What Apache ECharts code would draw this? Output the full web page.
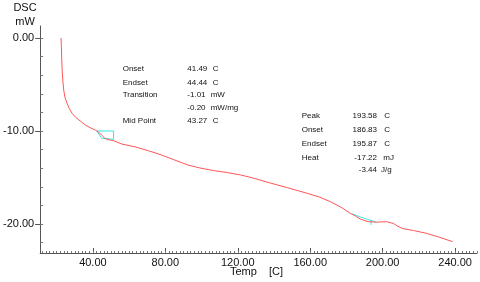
<!DOCTYPE html>
<html><head><meta charset="utf-8">
<script src="https://cdn.jsdelivr.net/npm/echarts@6/dist/echarts.min.js"></script>
<style>html,body{margin:0;padding:0;background:#fff}#c{width:480px;height:282px}</style>
</head><body><div id="c"></div>
<script>
// Measured DSC curve: temperature [C] and heat flow [mW]
const temps = [22.4,22.6,23.0,23.5,23.9,24.6,25.7,27.0,28.5,30.3,32.2,35.8,38.5,41.3,43.3,44.9,46.7,49.0,51.4,55.9,63.2,70.6,77.9,85.1,92.5,99.8,107.1,114.4,121.7,129.0,137.3,147.5,158.3,165.0,171.1,177.0,182.1,185.0,188.0,192.0,196.7,199.0,202.2,206.0,208.0,211.1,217.0,224.1,231.0,238.6];
const dsc   = [0.0,-1.0,-3.4,-4.8,-5.6,-6.4,-7.0,-7.6,-8.1,-8.5,-8.8,-9.35,-9.65,-9.9,-10.15,-10.45,-10.8,-10.95,-11.04,-11.4,-11.7,-12.12,-12.58,-13.12,-13.66,-14.01,-14.27,-14.48,-14.73,-15.09,-15.56,-16.1,-16.7,-17.1,-17.6,-18.2,-18.85,-19.15,-19.5,-19.75,-19.8,-19.78,-19.75,-19.95,-20.2,-20.5,-20.7,-21.0,-21.4,-21.9];
// Glass transition analysis box
const glassT = [42.2,51.4,51.4,44.9,42.2];
const glassV = [-10.0,-10.0,-10.9,-10.78,-10.0];
// Peak baseline and peak marker
const peakBaseT = [183.0,190.0,196.7];
const peakBaseV = [-18.9,-19.4,-19.8];
const peakTickT = [193.6,193.6];
const peakTickV = [-19.55,-20.1];
// Axis ticks
const xMajor = [40,80,120,160,200,240];
const xMinor = []; for (let v = 12; v <= 252; v += 2) xMinor.push(v);
const yMajor = [0,-10,-20];
const yMinor = [0,-2,-4,-6,-8,-10,-12,-14,-16,-18,-20,-22];
// Annotation texts
const glassLabels = ['Onset','Endset','Transition','','Mid Point'];
const glassValues = ['41.49','44.44','-1.01','-0.20','43.27'];
const glassUnits  = ['C','C','mW','mW/mg','C'];
const peakLabels = ['Peak','Onset','Endset','Heat',''];
const peakValues = ['193.58','186.83','195.87','-17.22','-3.44'];
const peakUnits  = ['C','C','C','mJ','J/g'];

const zip = (a,b) => a.map((v,i)=>[v,b[i]]);
const FF = '"Liberation Sans", Arial, sans-serif';
const chart = echarts.init(document.getElementById('c'));

const graphics = [];
function txt(x,y,s,size,align){
  graphics.push({type:'text',x:x,y:y,style:{text:s,fontSize:size,fontFamily:FF,fill:'#111',align:align||'left',verticalAlign:'middle'}});
}
txt(25,7.5,'DSC',11,'center');
txt(25,21.5,'mW',11,'center');
txt(230,272,'Temp',11);
txt(269,272,'[C]',11);
const gy = [68.3,82.3,95,107.5,121];
glassLabels.forEach((s,i)=>{ if(s) txt(122.7,gy[i],s,8); });
glassValues.forEach((s,i)=>txt(187.3,gy[i],s,8));
const gux = [212.7,212.7,210.7,210.7,212.7];
glassUnits.forEach((s,i)=>txt(gux[i],gy[i],s,8));
const py = [116,130,143.7,157.3,170];
peakLabels.forEach((s,i)=>{ if(s) txt(301.7,py[i],s,8); });
peakValues.forEach((s,i)=>txt(377,py[i],s,8,'right'));
const pux = [384.3,384.3,384.3,383.3,381];
peakUnits.forEach((s,i)=>txt(pux[i],py[i],s,8));

const axisCol = '#555';
chart.setOption({
  animation:false,
  grid:{left:38,right:3,top:26,bottom:29},
  xAxis:[{
    type:'value',min:10.9,max:252.1,position:'bottom',
    axisLine:{show:true,onZero:false,lineStyle:{color:axisCol,width:1}},
    axisTick:{show:true,inside:true,length:5,customValues:xMajor,lineStyle:{color:axisCol}},
    axisLabel:{show:true,margin:4,customValues:xMajor,formatter:v=>v.toFixed(2),fontSize:11,fontFamily:FF,color:'#111'},
    splitLine:{show:false}
  },{
    type:'value',min:10.9,max:252.1,position:'bottom',
    axisLine:{show:false,onZero:false},
    axisTick:{show:true,inside:true,length:2,customValues:xMinor,lineStyle:{color:'#777'}},
    axisLabel:{show:false},splitLine:{show:false}
  }],
  yAxis:[{
    type:'value',min:-23.12,max:1.29,position:'left',
    axisLine:{show:true,onZero:false,lineStyle:{color:axisCol,width:1}},
    axisTick:{show:true,inside:false,length:5,customValues:yMajor,lineStyle:{color:axisCol}},
    axisLabel:{show:true,margin:6,customValues:yMajor,formatter:v=>v.toFixed(2),fontSize:11,fontFamily:FF,color:'#111'},
    splitLine:{show:false}
  },{
    type:'value',min:-23.12,max:1.29,position:'left',
    axisLine:{show:false,onZero:false},
    axisTick:{show:true,inside:true,length:3,customValues:yMinor,lineStyle:{color:'#777'}},
    axisLabel:{show:false},splitLine:{show:false}
  }],
  series:[
    {type:'line',data:zip(temps,dsc),showSymbol:false,lineStyle:{color:'#ff5555',width:1},itemStyle:{color:'#ff5555'},z:3},
    {type:'line',data:zip(glassT,glassV),showSymbol:false,lineStyle:{color:'#33e6e6',width:1},z:2},
    {type:'line',data:zip(peakBaseT,peakBaseV),showSymbol:false,smooth:true,lineStyle:{color:'#33e6e6',width:1},z:2},
    {type:'line',data:zip(peakTickT,peakTickV),showSymbol:false,lineStyle:{color:'#33e6e6',width:1},z:2}
  ],
  graphic:graphics
});
</script></body></html>
